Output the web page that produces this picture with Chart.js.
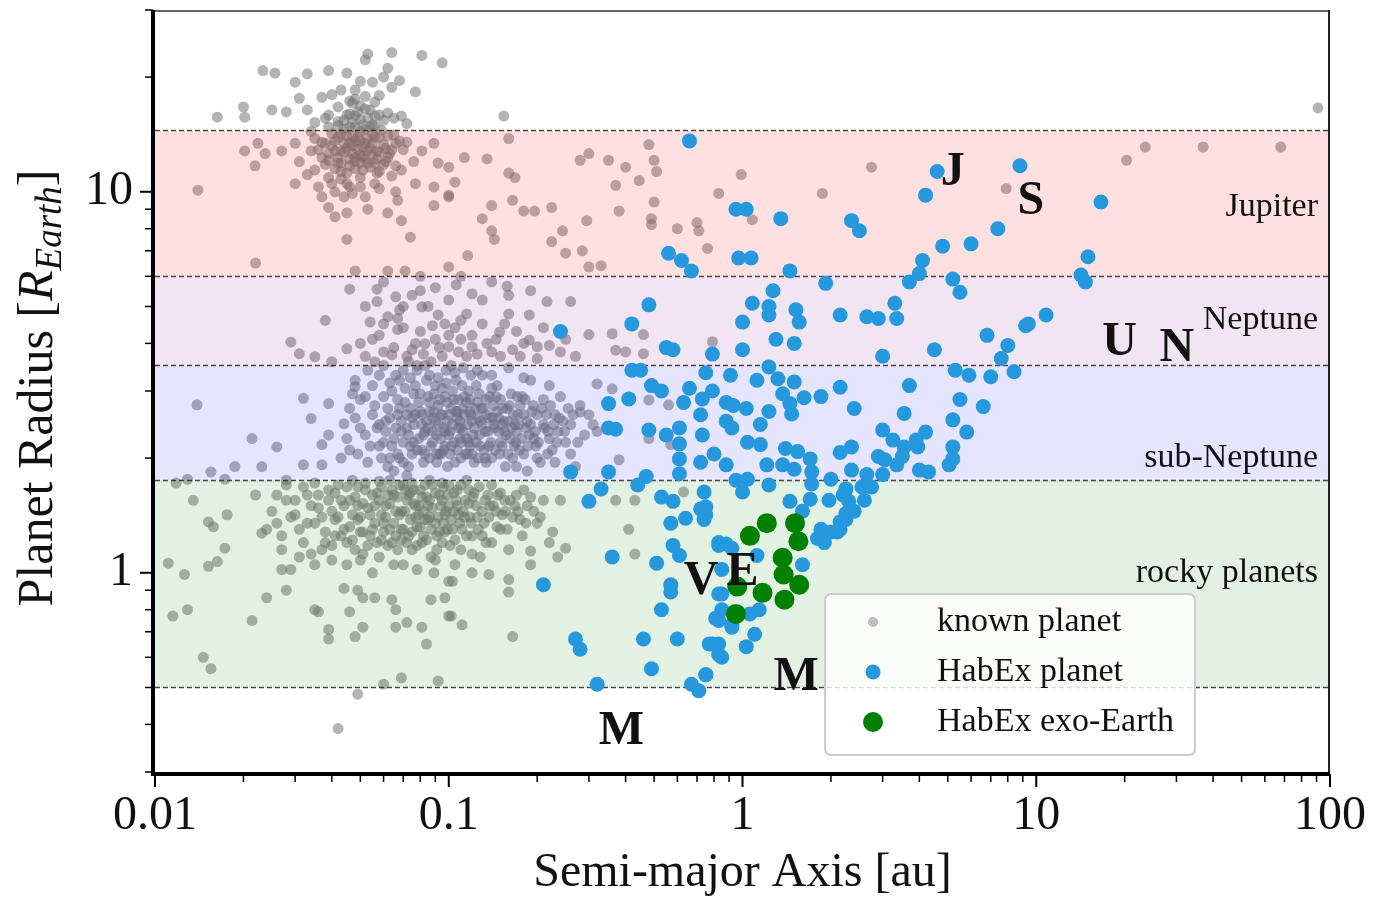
<!DOCTYPE html>
<html>
<head>
<meta charset="utf-8">
<script src="https://cdn.jsdelivr.net/npm/chart.js@4.4.0/dist/chart.umd.min.js"></script>
<style>
  html, body { margin: 0; padding: 0; background: #fff; }
  #wrap { width: 1373px; height: 898px; }
</style>
</head>
<body>
<div id="wrap"><canvas id="chart" width="1373" height="898"></canvas></div>
<script>
// ---- data: [semi-major axis (au), radius (R_Earth)] ----
const knownGiants = [
  [0.053,23],[0.064,23.2],[0.081,22.8],[0.095,21.8],[0.0233,20.8],[0.0256,20.5],[0.033,20.4],[0.039,20.8],[0.045,20.5],
  [0.052,22.2],[0.062,21.1],[0.068,19.6],[0.03,19.4],[0.055,19.4],[0.077,18.3],[0.031,17.6],[0.02,16.7],[0.025,16.4],
  [0.028,16.2],[0.0163,15.7],[0.0202,15.7],[0.037,17.7],[0.043,18.5],[0.048,18.5],[0.047,17.1],[0.042,16.7],[0.033,16.4],
  [0.039,15.9],[0.048,15.8],[0.056,15.8],[0.062,16.1],[0.069,15.8],[0.072,15.1],
  [0.0202,12.8],[0.0224,13.4],[0.0219,11.7],[0.0237,12.6],[0.027,12.8],[0.03,13.4],[0.03,10.5],[0.034,12.8],[0.035,11.4],
  [0.037,12.3],[0.039,10.9],[0.041,12.8],[0.043,11.9],[0.045,10.5],[0.048,12.3],[0.051,11.4],[0.053,12.8],[0.056,11.9],
  [0.056,10.5],[0.062,12.3],[0.066,13.4],[0.069,11.4],[0.081,12.8],[0.089,13.4],[0.092,11.9],[0.1,11.6],[0.077,10.5],
  [0.089,10.3],[0.1,9.7],[0.037,9.7],[0.041,8.6],[0.045,8.8],[0.053,9.0],[0.062,8.8],[0.069,8.4],[0.039,9.1],[0.044,9.7],
  [0.052,9.7],[0.067,9.5],[0.089,9.2],[0.045,7.5],[0.074,7.6],[0.014,10.1],[0.022,6.5],
  [0.042,13.9],[0.046,13.4],[0.05,14.4],[0.044,12.7],[0.048,12.0],[0.052,13.4],[0.039,14.8],[0.054,14.8],[0.043,11.3],
  [0.05,10.9],[0.046,10.3],[0.058,13.9],[0.058,11.3],[0.038,13.4],[0.061,13.0],[0.034,14.4],[0.031,12.0],[0.036,10.3],
  [0.041,10.0],[0.066,10.0],[0.047,14.0],[0.044,14.6],[0.05,12.5],[0.057,12.2],[0.041,11.5],[0.048,13.6],[0.053,13.8],
  [0.039,12.1],[0.045,11.2],[0.055,14.2],
  [0.036,12.9],[0.038,11.8],[0.04,13.2],[0.042,12.3],[0.043,14.2],[0.045,13.0],[0.046,11.7],[0.047,12.6],[0.049,13.9],
  [0.05,11.9],[0.051,13.1],[0.052,12.2],[0.054,11.6],[0.055,13.4],[0.057,12.8],[0.059,14.5],[0.06,11.8],[0.063,12.6],
  [0.065,14.1],[0.07,12.9],[0.035,13.8],[0.033,11.1],[0.04,10.5],[0.047,9.9],[0.058,10.2],[0.064,11.0],[0.072,13.5],
  [0.076,12.0],[0.042,15.3],[0.05,15.5],[0.046,16.0],[0.056,17.2],[0.04,18.0],[0.05,19.5],[0.058,17.9],[0.035,15.2],
  [0.064,18.8],[0.06,20.0],
  [0.037,13.5],[0.039,12.6],[0.04,14.2],[0.041,13.6],[0.042,11.9],[0.043,12.8],[0.044,13.4],[0.045,14.0],[0.046,12.2],
  [0.046,14.8],[0.047,13.2],[0.048,11.5],[0.049,12.9],[0.05,13.6],[0.051,12.4],[0.052,14.6],[0.053,11.9],[0.054,13.0],
  [0.055,12.5],[0.056,13.9],[0.057,11.2],[0.058,12.7],[0.06,13.3],[0.061,12.0],[0.062,14.0],[0.064,12.9],[0.066,11.7],
  [0.068,13.6],[0.043,10.8],[0.05,10.3],[0.038,15.6],[0.045,15.9],[0.052,16.5],[0.06,15.4],[0.048,17.5],[0.042,14.9],
  [0.055,15.0],[0.065,15.6],[0.047,15.2],[0.049,16.2],[0.051,15.0],[0.053,15.6],[0.05,16.8],[0.046,17.3],[0.054,16.4],
  [0.044,15.4],[0.048,14.8],[0.052,17.8],[0.056,14.9],[0.058,15.9]
];
const knownWarmGiants = [
  [0.154,15.8],[0.16,13.8],[0.113,12.3],[0.135,12.2],[0.16,11.2],[0.168,10.9],[0.105,10.6],[0.1,9.8],[0.14,9.2],[0.165,9.5],
  [0.18,8.9],[0.196,8.9],[0.224,9.1],[0.13,8.5],[0.14,7.9],[0.143,7.5],[0.244,7.9],[0.224,7.4],[0.116,6.8],[0.25,6.9],
  [0.285,7.0],[0.295,8.4],[0.28,12.1],[0.3,12.6],[0.35,12.1],[0.4,11.6],[0.37,10.4],[0.445,10.7],[0.48,13.3],[0.5,12.1],
  [0.51,11.3],[0.38,8.9],[0.5,9.4],[0.49,8.5],[0.49,8.2],[0.6,8.0],[0.7,8.3],[0.71,7.9],[0.76,7.1],[0.83,9.9],[0.99,11.1],
  [0.3,6.35],[0.33,6.4],[2.75,11.6],[1.87,9.9],[1.08,8.45],[7.9,10.2],[91,16.6],[20.3,12.1],[23.5,13.1],[37,13.1],[68,13.1]
];
const knownNeptunes = [
  [0.048,6.2],[0.062,6.2],[0.071,6.2],[0.08,6.0],[0.1,6.35],[0.046,5.55],[0.057,5.55],[0.057,5.15],[0.066,5.3],[0.075,5.35],
  [0.081,4.99],[0.038,4.6],[0.054,4.55],[0.062,4.7],[0.067,4.65],[0.067,4.35],[0.092,4.75],[0.097,4.5],[0.029,4.03],
  [0.031,3.76],[0.035,3.69],[0.04,3.58],[0.045,3.87],[0.056,3.58],[0.064,3.73],[0.073,3.58],[0.083,3.99],[0.1,3.92],
  [0.087,3.58],[0.106,5.7],[0.158,5.65],[0.16,5.35],[0.216,5.15],[0.26,5.15],[0.115,4.78],[0.16,4.78],[0.188,4.75],
  [0.149,4.28],[0.188,4.08],[0.2,3.92],[0.3,4.22],[0.36,4.24],[0.46,4.22],[0.11,4.1],[0.12,3.92],[0.14,3.8],[0.37,3.84],
  [0.4,3.8],[0.46,3.76],[0.79,4.04],
  [0.05,4.0],[0.058,4.2],[0.06,3.8],[0.07,4.4],[0.075,3.85],[0.08,4.3],[0.085,5.0],[0.09,4.1],[0.095,3.7],[0.105,4.4],
  [0.115,3.7],[0.13,4.5],[0.13,5.2],[0.145,4.1],[0.17,4.3],[0.175,3.7],[0.21,4.4],[0.24,3.8],[0.12,5.4],[0.09,5.6],
  [0.07,5.0],[0.11,6.0],
  [0.052,3.7],[0.055,4.1],[0.06,4.5],[0.065,3.9],[0.068,4.9],[0.072,3.7],[0.077,4.0],[0.082,3.75],[0.088,4.45],[0.093,3.9],
  [0.1,4.2],[0.108,3.8],[0.11,4.6],[0.12,4.2],[0.125,3.75],[0.135,4.0],[0.15,3.7],[0.155,4.5],[0.165,3.85],[0.18,4.0],
  [0.2,3.65],[0.22,3.95],[0.25,4.1],[0.27,3.7],[0.08,5.5],[0.1,5.2],[0.14,5.8],[0.19,5.5],[0.06,5.8],[0.052,5.0]
];
const knownSubNeptunes = [
  [0.0139,2.76],[0.032,2.87],[0.039,2.78],[0.034,2.54],[0.0214,2.25],[0.026,2.14],[0.048,3.08],[0.0155,1.84],[0.0187,1.9],
  [0.0231,1.9],[0.032,1.92],[0.037,1.92],[0.0129,1.76],[0.0173,1.76],[0.028,1.75],[0.044,2.46],[0.039,2.3],[0.037,2.17],
  [0.48,2.84],[0.56,2.76],[0.32,3.13],[0.36,3.04],[0.28,2.64],[0.31,2.45],[0.38,1.98],[0.48,2.25],[0.57,2.17],
  [0.048,3.2],[0.052,2.9],[0.055,2.6],[0.058,3.3],[0.06,2.2],[0.062,2.7],[0.064,3.0],[0.066,2.4],[0.068,2.0],[0.07,3.4],
  [0.071,2.8],[0.073,2.3],[0.075,2.55],[0.077,3.1],[0.078,2.1],[0.08,2.65],[0.082,1.95],[0.083,2.35],[0.085,2.9],[0.086,3.3],
  [0.088,2.2],[0.09,2.5],[0.092,2.75],[0.093,2.05],[0.095,3.05],[0.097,2.35],[0.099,1.9],[0.1,2.6],[0.102,2.15],[0.104,2.85],
  [0.106,3.2],[0.108,2.4],[0.11,2.0],[0.112,2.7],[0.115,2.25],[0.117,3.0],[0.12,2.5],[0.122,1.95],[0.125,2.8],[0.127,2.3],
  [0.13,3.3],[0.132,2.1],[0.135,2.6],[0.138,2.9],[0.14,2.0],[0.143,2.4],[0.146,3.1],[0.15,2.2],[0.153,2.7],[0.156,1.9],
  [0.16,2.5],[0.163,2.95],[0.167,2.15],[0.17,2.35],[0.175,2.75],[0.18,2.05],[0.185,2.5],[0.19,3.2],[0.195,2.25],[0.2,2.6],
  [0.205,1.95],[0.21,2.85],[0.218,2.35],[0.225,2.1],[0.23,2.6],[0.24,2.9],[0.25,2.2],[0.26,2.45],[0.27,1.9],[0.28,2.75],
  [0.065,1.85],[0.072,1.8],[0.083,3.5],[0.098,3.4],[0.112,3.45],[0.058,2.45],[0.054,2.15],[0.05,2.4],[0.046,2.7],[0.043,2.0],
  [0.076,2.95],[0.088,2.55],[0.094,2.25],[0.107,2.55],[0.118,2.15],[0.128,2.5],[0.142,2.75],[0.155,2.35],[0.172,2.6],
  [0.188,2.3],[0.21,2.45],[0.118,2.85],[0.097,2.9],[0.081,2.45],[0.067,2.6],[0.063,2.0],[0.134,1.95],[0.165,2.0],[0.2,2.0],
  [0.235,2.35],[0.148,2.55],[0.109,2.25],[0.091,2.05],[0.074,2.15],[0.086,2.65],[0.63,1.63],
  [0.045,2.25],[0.047,2.95],[0.049,2.05],[0.053,3.4],[0.056,2.75],[0.059,2.0],[0.061,2.5],[0.063,3.15],[0.065,2.25],
  [0.067,2.85],[0.069,2.35],[0.07,1.95],[0.072,2.6],[0.074,3.25],[0.076,2.2],[0.079,2.8],[0.081,2.1],[0.084,2.5],[0.086,2.0],
  [0.089,2.95],[0.091,2.3],[0.094,2.6],[0.096,2.1],[0.099,2.8],[0.101,2.35],[0.103,3.0],[0.105,1.95],[0.107,2.65],[0.11,2.4],
  [0.113,2.9],[0.116,2.05],[0.119,2.6],[0.121,2.3],[0.124,3.1],[0.126,2.0],[0.129,2.7],[0.133,2.35],[0.137,2.15],[0.141,2.55],
  [0.145,2.9],[0.149,2.05],[0.152,2.45],[0.158,2.7],[0.162,2.25],[0.168,2.45],[0.174,2.1],[0.178,2.9],[0.183,2.4],
  [0.192,2.65],[0.198,2.15],[0.215,2.6],[0.22,2.25],[0.245,2.5],[0.255,2.7],[0.06,3.5],[0.068,3.2],[0.078,3.4],[0.092,3.25],
  [0.102,3.5],[0.125,3.4],[0.14,3.3],[0.16,3.45],[0.18,3.25],[0.22,3.1],[0.17,1.9],[0.185,1.85],[0.23,1.95],[0.26,2.05],
  [0.29,2.3],
  [0.046,2.1],[0.048,2.55],[0.05,2.85],[0.052,2.3],[0.053,1.95],[0.055,3.1],[0.057,2.4],[0.058,2.15],[0.06,2.9],[0.061,2.35],
  [0.062,1.9],[0.063,2.55],[0.064,2.15],[0.066,3.3],[0.067,2.05],[0.068,2.7],[0.069,2.5],[0.07,2.2],[0.071,3.05],[0.072,2.4],
  [0.073,1.9],[0.074,2.7],[0.075,2.05],[0.076,2.45],[0.077,2.6],[0.078,3.5],[0.079,2.25],[0.08,2.95],[0.081,2.6],[0.082,2.3],
  [0.083,2.05],[0.084,3.2],[0.085,2.4],[0.086,2.8],[0.087,2.15],[0.088,2.35],[0.089,2.65],[0.09,3.1],[0.091,1.95],
  [0.092,2.45],[0.093,2.85],[0.094,2.05],[0.095,2.6],[0.096,2.4],[0.097,2.15],[0.098,3.15],[0.099,2.5],[0.1,2.3],[0.101,2.05],
  [0.102,2.7],[0.103,2.45],[0.104,2.2],[0.105,3.35],[0.106,2.65],[0.107,2.1],[0.108,2.85],[0.109,2.5],[0.11,2.2],[0.111,3.1],
  [0.112,2.35],[0.113,2.6],[0.114,2.05],[0.115,2.8],[0.116,2.45],[0.117,2.2],[0.118,2.65],[0.119,3.3],[0.12,2.05],
  [0.122,2.4],[0.123,2.7],[0.124,2.2],[0.126,2.55],[0.127,2.95],[0.128,2.15],[0.13,2.45],[0.131,2.7],[0.133,2.0],[0.134,2.85],
  [0.136,2.35],[0.137,2.55],[0.139,2.2],[0.14,3.05],[0.142,2.45],[0.144,2.1],[0.146,2.65],[0.148,2.35],[0.15,2.85],
  [0.152,2.15],[0.154,2.5],[0.157,2.3],[0.159,2.05],[0.161,2.75],[0.164,2.4],[0.166,2.6],[0.169,2.2],[0.171,2.9],[0.173,2.45],
  [0.177,2.25],[0.18,2.6],[0.182,2.85],[0.186,2.15],[0.19,2.45],[0.194,2.75],[0.197,2.35],[0.202,2.2],[0.207,2.7],
  [0.212,2.4],[0.217,2.05],[0.222,2.75],[0.228,2.45],[0.233,2.2],[0.238,2.55],[0.248,2.35],[0.265,2.6],[0.275,2.2],
  [0.3,2.6],[0.32,2.35]
];
const knownRocky = [
  [0.0152,1.36],[0.0158,1.32],[0.0176,1.42],[0.0231,1.27],[0.0173,1.16],[0.0111,1.06],[0.0126,0.99],[0.0152,1.04],
  [0.0163,1.07],[0.027,1.02],[0.029,1.02],[0.024,0.86],[0.028,0.9],[0.0115,0.77],[0.0129,0.8],[0.0214,0.75],[0.035,0.8],
  [0.036,0.79],[0.044,0.91],[0.049,0.9],[0.051,0.86],[0.056,0.86],[0.046,0.79],[0.039,0.71],[0.039,0.67],[0.048,0.68],
  [0.051,0.72],[0.064,0.85],[0.066,0.8],[0.066,0.72],[0.072,0.74],[0.081,0.72],[0.084,0.65],[0.087,0.85],[0.097,0.86],
  [0.1,0.95],[0.1,0.77],[0.0146,0.6],[0.0155,0.56],[0.049,0.48],[0.042,0.39],[0.06,0.51],[0.069,0.53],[0.092,0.52],
  [0.41,1.3],[0.43,1.12],[0.226,1.28],[0.19,1.14],[0.25,1.16],[0.235,1.1],[0.137,0.99],[0.16,0.96],[0.16,0.89],[0.103,0.95],
  [0.111,0.73],[0.102,0.77],[0.165,0.68],[0.0118,1.72],[0.0135,1.55],[0.43,1.55],[0.37,1.55],[0.24,1.55],
  [0.03,1.55],[0.033,1.35],[0.036,1.6],[0.038,1.2],[0.04,1.45],[0.042,1.7],[0.044,1.3],[0.046,1.55],[0.048,1.15],[0.05,1.4],
  [0.052,1.65],[0.054,1.25],[0.056,1.5],[0.058,1.1],[0.06,1.35],[0.062,1.6],[0.064,1.2],[0.066,1.45],[0.068,1.7],[0.07,1.3],
  [0.072,1.55],[0.075,1.15],[0.077,1.4],[0.08,1.65],[0.082,1.25],[0.085,1.5],[0.087,1.1],[0.09,1.35],[0.093,1.6],[0.095,1.2],
  [0.098,1.45],[0.1,1.7],[0.103,1.3],[0.106,1.55],[0.11,1.15],[0.113,1.4],[0.117,1.65],[0.12,1.25],[0.124,1.5],[0.128,1.1],
  [0.132,1.35],[0.136,1.6],[0.14,1.2],[0.145,1.45],[0.15,1.3],[0.155,1.55],[0.16,1.15],[0.165,1.4],[0.17,1.6],[0.178,1.25],
  [0.185,1.5],[0.19,1.05],[0.2,1.35],[0.21,1.55],[0.22,1.2],[0.025,1.45],[0.027,1.25],[0.022,1.6],[0.028,1.7],[0.035,1.05],
  [0.045,1.05],[0.055,1.0],[0.065,1.05],[0.078,1.02],[0.089,1.0],[0.105,1.05],[0.12,1.0],[0.063,1.75],[0.047,1.75],
  [0.086,1.75],[0.115,1.75],[0.14,1.7],[0.051,1.28],[0.059,1.42],[0.069,1.22],[0.074,1.62],[0.083,1.38],[0.097,1.28],
  [0.108,1.42],[0.126,1.3],[0.041,1.25],[0.037,1.4],[0.049,1.5],[0.079,1.5],
  [0.031,1.3],[0.034,1.5],[0.037,1.15],[0.039,1.65],[0.041,1.38],[0.043,1.55],[0.045,1.2],[0.047,1.42],[0.049,1.68],
  [0.051,1.12],[0.053,1.48],[0.055,1.3],[0.057,1.62],[0.059,1.22],[0.061,1.5],[0.063,1.3],[0.065,1.6],[0.067,1.15],
  [0.069,1.45],[0.071,1.65],[0.073,1.25],[0.076,1.52],[0.078,1.32],[0.081,1.2],[0.084,1.58],[0.086,1.4],[0.088,1.7],
  [0.091,1.25],[0.094,1.5],[0.096,1.35],[0.099,1.6],[0.101,1.18],[0.104,1.45],[0.107,1.65],[0.111,1.3],[0.114,1.55],
  [0.118,1.4],[0.122,1.62],[0.13,1.45],[0.134,1.2],[0.138,1.5],[0.147,1.6],[0.152,1.42],[0.158,1.3],[0.168,1.5],
  [0.175,1.38],[0.18,1.65],[0.195,1.45],[0.026,1.6],[0.029,1.4],[0.024,1.3],[0.032,1.68],[0.035,1.72],[0.058,1.74],
  [0.075,1.72],[0.095,1.72],[0.12,1.12],[0.09,1.08],[0.07,1.05],[0.05,1.08],[0.04,1.08],
  [0.03,1.42],[0.032,1.2],[0.033,1.6],[0.035,1.35],[0.036,1.48],[0.038,1.28],[0.039,1.55],[0.04,1.18],[0.041,1.62],
  [0.042,1.4],[0.043,1.25],[0.044,1.5],[0.045,1.68],[0.046,1.32],[0.047,1.22],[0.048,1.58],[0.049,1.38],[0.05,1.28],
  [0.051,1.52],[0.052,1.72],[0.053,1.18],[0.054,1.42],[0.055,1.6],[0.056,1.35],[0.057,1.2],[0.058,1.55],[0.059,1.68],
  [0.06,1.28],[0.061,1.4],[0.062,1.18],[0.063,1.52],[0.064,1.65],[0.065,1.35],[0.066,1.25],[0.067,1.58],[0.068,1.42],
  [0.069,1.3],[0.07,1.7],[0.071,1.45],[0.072,1.2],[0.073,1.6],[0.074,1.38],[0.075,1.28],[0.076,1.65],[0.077,1.5],
  [0.078,1.18],[0.079,1.42],[0.08,1.32],[0.081,1.58],[0.082,1.45],[0.083,1.7],[0.084,1.22],[0.085,1.38],[0.086,1.55],
  [0.087,1.3],[0.088,1.48],[0.09,1.62],[0.091,1.15],[0.092,1.4],[0.093,1.28],[0.095,1.55],[0.096,1.68],[0.097,1.42],
  [0.099,1.3],[0.1,1.5],[0.102,1.38],[0.104,1.62],[0.105,1.22],[0.107,1.5],[0.109,1.35],[0.11,1.7],[0.112,1.45],
  [0.115,1.25],[0.117,1.52],[0.119,1.35],[0.121,1.58],[0.125,1.4],[0.127,1.68],[0.13,1.25],[0.133,1.55],[0.137,1.4],
  [0.142,1.5],[0.146,1.32],[0.15,1.62],[0.156,1.45],[0.162,1.55],[0.172,1.45],[0.183,1.35],[0.19,1.58],[0.205,1.4],
  [0.026,1.35],[0.028,1.55],[0.027,1.15],[0.031,1.1],[0.034,1.12]
];
const habexPlanets = [
  [0.66,13.6],[4.6,11.3],[4.2,9.8],[8.8,11.7],[16.6,9.4],[0.95,9.0],[1.03,9.0],[1.35,8.5],[2.35,8.4],[2.5,7.9],[1.07,6.7],
  [0.97,6.7],[1.45,6.2],[1.92,5.75],[4.1,6.6],[4.8,7.2],[6.0,7.3],[7.4,8.0],[3.7,5.8],[4.0,6.1],[5.2,5.9],[5.5,5.45],
  [1.27,5.5],[1.08,5.1],[1.23,5.0],[1.23,4.75],[1.52,4.9],[1.56,4.55],[1.0,4.55],[2.15,4.75],[2.65,4.7],[2.9,4.65],
  [3.3,5.1],[3.35,4.65],[9.2,4.45],[6.8,4.2],[8.0,3.95],[1.3,4.1],[1.5,4.0],[4.5,3.85],[3.0,3.7],[7.6,3.65],[1.0,3.85],
  [15.0,6.75],[14.2,6.05],[14.7,5.8],[10.8,4.75],[9.4,4.5],[0.56,6.9],[0.62,6.6],[0.67,6.2],[0.48,5.05],[0.42,4.5],
  [0.24,4.3],[0.55,3.9],[0.58,3.85],[0.79,3.75],[0.42,3.4],[0.45,3.4],[0.75,3.35],[0.91,3.3],[0.49,3.1],[0.53,3.0],
  [0.66,3.05],[0.79,3.0],[0.35,2.78],[0.41,2.86],[0.63,2.8],[0.73,2.86],[0.88,2.8],[0.93,2.75],[1.03,2.7],[0.72,2.6],
  [0.88,2.5],[0.92,2.4],[0.35,2.4],[0.37,2.38],[0.48,2.37],[0.55,2.3],[0.61,2.4],[0.73,2.3],[0.61,2.18],[0.8,2.05],
  [0.72,1.95],[0.61,1.99],[0.88,1.92],[0.61,1.82],[0.26,1.84],[0.35,1.84],[0.47,1.79],[0.95,1.75],[0.33,1.66],[0.44,1.7],
  [0.53,1.58],[0.58,1.54],[0.74,1.63],[0.75,1.49],[0.3,1.54],[1.0,1.63],[0.57,1.35],[0.64,1.39],[0.74,1.38],[0.36,1.1],
  [0.51,1.06],[0.58,1.18],[0.61,1.11],[0.21,0.93],[0.57,0.93],[0.57,0.89],[0.83,1.18],[0.88,1.19],[0.85,1.02],[0.85,0.88],
  [0.53,0.8],[0.83,0.75],[0.92,0.72],[0.27,0.67],[0.28,0.63],[0.46,0.67],[0.6,0.67],[0.79,0.65],[0.83,0.65],[0.85,0.6],
  [1.03,0.64],[0.49,0.56],[0.32,0.51],[0.75,0.54],[0.67,0.51],[0.71,0.49],
  [5.3,3.4],[5.9,3.3],[7.0,3.27],[8.4,3.37],[1.23,3.47],[1.12,3.2],[1.32,3.23],[1.5,3.17],[1.37,2.95],[1.62,2.88],
  [1.85,2.9],[2.15,3.07],[3.7,3.1],[2.4,2.7],[3.55,2.62],[5.5,2.85],[6.6,2.73],[1.45,2.78],[1.47,2.61],[1.23,2.65],
  [1.15,2.45],[5.2,2.52],[5.8,2.34],[3.0,2.37],[3.25,2.23],[4.2,2.34],[3.9,2.23],[3.95,2.14],[3.55,2.14],[3.5,2.02],
  [1.04,2.2],[1.15,2.17],[1.4,2.12],[1.54,2.08],[1.7,1.99],[2.15,2.07],[2.35,2.14],[2.9,2.02],[3.05,1.98],[5.2,2.14],
  [5.2,1.99],[5.05,1.92],[3.35,1.92],[4.0,1.86],[4.3,1.84],[1.21,1.92],[1.37,1.92],[1.5,1.87],[1.72,1.84],[2.35,1.86],
  [2.65,1.81],[3.0,1.81],[1.04,1.76],[1.23,1.7],[1.72,1.71],[2.0,1.76],[2.25,1.66],[2.55,1.68],[2.75,1.68],[1.45,1.54],
  [1.7,1.56],[1.97,1.55],[2.3,1.54],[2.6,1.55],[2.25,1.43],[2.4,1.45],[1.6,1.45],[2.15,1.36],[2.25,1.38],[1.85,1.3],
  [2.0,1.28],[2.15,1.3],[1.8,1.23],[1.9,1.2],[1.6,1.05],[1.12,1.11],[2.2,1.6],[2.1,1.28],[0.75,1.42],[0.72,1.47],
  [0.83,1.2],[0.92,1.16],[0.83,0.88],[0.85,0.8],[0.81,0.76],[1.14,0.8],[1.06,0.78],[0.92,0.73],[1.1,0.69],[0.77,0.65],
  [0.83,0.61],[0.75,0.54]
];
const exoEarths = [
  [1.21,1.35],[1.51,1.35],[1.06,1.25],[1.55,1.21],[1.37,1.095],[1.38,0.99],[0.96,0.92],[1.17,0.886],[1.39,0.85],
  [1.56,0.93],[0.95,0.78]
];
// solar system planets, drawn as letters
const solarNames = ['M', 'V', 'E', 'M', 'J', 'S', 'U', 'N'];
const solarA = [0.387, 0.723, 1.0, 1.524, 5.2, 9.58, 19.2, 30.1];
const solarR = [0.383, 0.949, 1.0, 0.532, 11.21, 9.45, 4.01, 3.88];
// radius classes
const bandNames = ['rocky planets', 'sub-Neptune', 'Neptune', 'Jupiter'];
const bandEdges = [0.5, 1.75, 3.5, 6.0, 14.5];
const xMajor = [0.01, 0.1, 1, 10, 100];
const yMajor = [1, 10];

const serif = '"Liberation Serif", "DejaVu Serif", serif';
const bandFills = ['rgba(0,128,0,0.11)', 'rgba(0,0,255,0.1)', 'rgba(128,0,128,0.1)', 'rgba(255,0,0,0.12)'];
const bandLabelAt = [1.0, 2.0, 4.6, 9.1];

const toXY = list => list.map(p => ({ x: p[0], y: p[1] }));
const knownAll = [].concat(knownGiants, knownWarmGiants, knownNeptunes, knownSubNeptunes, knownRocky);

function minorsOf(majors, lo, hi) {
  const out = [];
  majors.concat([majors[0] / 10]).forEach(m => {
    for (let k = 2; k <= 9; k++) {
      const v = m * k;
      if (v >= lo && v <= hi) out.push(v);
    }
  });
  return out;
}

const overlay = {
  id: 'overlay',
  beforeDraw(chart) {
    const ctx = chart.ctx;
    ctx.save();
    ctx.fillStyle = '#fff';
    ctx.fillRect(0, 0, chart.width, chart.height);
    ctx.restore();
  },
  // bands go over the grey points, under the HabEx ones
  afterDatasetDraw(chart, args) {
    if (args.index !== 0) return;
    const { ctx, chartArea: ca, scales: { y } } = chart;
    ctx.save();
    for (let i = 0; i < bandFills.length; i++) {
      const top = y.getPixelForValue(bandEdges[i + 1]);
      const bot = y.getPixelForValue(bandEdges[i]);
      ctx.fillStyle = bandFills[i];
      ctx.fillRect(ca.left, top, ca.right - ca.left, bot - top);
    }
    ctx.setLineDash([5, 3]);
    ctx.lineWidth = 1.4;
    ctx.strokeStyle = 'rgba(50,40,40,0.85)';
    bandEdges.forEach(v => {
      const py = Math.round(y.getPixelForValue(v)) + 0.5;
      ctx.beginPath();
      ctx.moveTo(ca.left, py);
      ctx.lineTo(ca.right, py);
      ctx.stroke();
    });
    ctx.restore();
  },
  afterDatasetsDraw(chart) {
    const { ctx, chartArea: ca, scales: { x, y } } = chart;
    ctx.save();

    // band labels
    ctx.fillStyle = '#111';
    ctx.font = '34px ' + serif;
    ctx.textAlign = 'right';
    ctx.textBaseline = 'middle';
    bandNames.forEach((name, i) => {
      ctx.fillText(name, ca.right - 12, y.getPixelForValue(bandLabelAt[i]));
    });

    // solar system letters
    ctx.font = 'bold 48px ' + serif;
    ctx.textAlign = 'center';
    solarNames.forEach((n, i) => {
      ctx.fillText(n, x.getPixelForValue(solarA[i]), y.getPixelForValue(solarR[i]));
    });

    // frame
    ctx.lineWidth = 2;
    ctx.strokeStyle = '#666';
    ctx.beginPath(); ctx.moveTo(ca.left, ca.top + 1); ctx.lineTo(ca.right, ca.top + 1); ctx.stroke();
    ctx.strokeStyle = '#222';
    ctx.beginPath(); ctx.moveTo(ca.right - 1, ca.top); ctx.lineTo(ca.right - 1, ca.bottom); ctx.stroke();
    ctx.strokeStyle = '#000';
    ctx.lineWidth = 4;
    ctx.beginPath(); ctx.moveTo(ca.left - 2, ca.top); ctx.lineTo(ca.left - 2, ca.bottom + 2); ctx.lineTo(ca.right, ca.bottom + 2); ctx.stroke();

    // tick marks
    ctx.lineWidth = 2;
    xMajor.forEach(v => {
      const px = x.getPixelForValue(v);
      ctx.beginPath(); ctx.moveTo(px, ca.bottom + 2); ctx.lineTo(px, ca.bottom + 15); ctx.stroke();
    });
    yMajor.forEach(v => {
      const py = y.getPixelForValue(v);
      ctx.beginPath(); ctx.moveTo(ca.left - 2, py); ctx.lineTo(ca.left - 15, py); ctx.stroke();
    });
    ctx.lineWidth = 1.5;
    minorsOf(xMajor, 0.01, 100).forEach(v => {
      const px = x.getPixelForValue(v);
      ctx.beginPath(); ctx.moveTo(px, ca.bottom + 2); ctx.lineTo(px, ca.bottom + 10); ctx.stroke();
    });
    minorsOf(yMajor, 0.3, 30).forEach(v => {
      const py = y.getPixelForValue(v);
      ctx.beginPath(); ctx.moveTo(ca.left - 2, py); ctx.lineTo(ca.left - 10, py); ctx.stroke();
    });

    // y title with subscript
    ctx.translate(52, (ca.top + ca.bottom) / 2 - 3);
    ctx.rotate(-Math.PI / 2);
    ctx.textAlign = 'left';
    ctx.textBaseline = 'alphabetic';
    const parts = [
      { t: 'Planet Radius [', f: '50px ' + serif, dy: 0 },
      { t: 'R', f: 'italic 50px ' + serif, dy: 0 },
      { t: 'Earth', f: 'italic 37px ' + serif, dy: 9 },
      { t: ']', f: '50px ' + serif, dy: 0 }
    ];
    let total = 0;
    parts.forEach(p => { ctx.font = p.f; p.w = ctx.measureText(p.t).width; total += p.w; });
    let cx = -total / 2;
    ctx.fillStyle = '#111';
    parts.forEach(p => { ctx.font = p.f; ctx.fillText(p.t, cx, p.dy); cx += p.w; });
    ctx.restore();

    // legend
    ctx.save();
    const lx = 825, ly = 594, lw = 370, lh = 161;
    ctx.fillStyle = 'rgba(255,255,255,0.8)';
    ctx.strokeStyle = '#cccccc';
    ctx.lineWidth = 2;
    ctx.beginPath();
    ctx.roundRect(lx, ly, lw, lh, 6);
    ctx.fill();
    ctx.stroke();
    ctx.font = '34px ' + serif;
    ctx.textAlign = 'left';
    ctx.textBaseline = 'middle';
    chart.data.datasets.forEach((ds, i) => {
      const ry = ly + 28 + i * 50;
      ctx.fillStyle = i === 0 ? 'rgba(128,128,128,0.5)' : ds.backgroundColor;
      ctx.beginPath();
      ctx.arc(lx + 48, ry, i === 0 ? 5 : ds.pointRadius, 0, Math.PI * 2);
      ctx.fill();
      ctx.fillStyle = '#111';
      ctx.fillText(ds.label, lx + 112, ry);
    });
    ctx.restore();
  }
};

new Chart(document.getElementById('chart'), {
  type: 'scatter',
  data: {
    datasets: [
      { label: 'known planet', data: toXY(knownAll), backgroundColor: 'rgba(118,118,118,0.55)',
        pointRadius: 5.5, borderWidth: 0, order: 2 },
      { label: 'HabEx planet', data: toXY(habexPlanets), backgroundColor: 'rgb(38,152,222)',
        pointRadius: 7.5, borderWidth: 0, order: 1 },
      { label: 'HabEx exo-Earth', data: toXY(exoEarths), backgroundColor: '#008000',
        pointRadius: 10, borderWidth: 0, order: 0 }
    ]
  },
  options: {
    responsive: false,
    animation: false,
    events: [],
    layout: { padding: { top: 8, right: 43, left: 0, bottom: 0 } },
    plugins: { legend: { display: false }, tooltip: { enabled: false } },
    scales: {
      x: {
        type: 'logarithmic',
        min: 0.01,
        max: 100,
        afterBuildTicks: s => { s.ticks = xMajor.map(v => ({ value: v })); },
        afterFit: s => { s.height = 126; s.paddingLeft = 0; s.paddingRight = 0; },
        ticks: {
          autoSkip: false, maxRotation: 0, padding: 16, color: '#111',
          font: { family: serif, size: 48 },
          callback: v => String(v)
        },
        grid: { display: false, drawTicks: false },
        border: { display: false },
        title: {
          display: true, text: 'Semi-major Axis [au]', color: '#111',
          font: { family: serif, size: 48, lineHeight: 1 },
          padding: { top: 0, bottom: 1 }
        }
      },
      y: {
        type: 'logarithmic',
        min: 0.3,
        max: 30,
        afterBuildTicks: s => { s.ticks = yMajor.map(v => ({ value: v })); },
        afterFit: s => { s.width = 155; s.paddingTop = 0; s.paddingBottom = 0; },
        ticks: {
          autoSkip: false, padding: 22, color: '#111',
          font: { family: serif, size: 48 },
          callback: v => String(v)
        },
        grid: { display: false, drawTicks: false },
        border: { display: false }
      }
    }
  },
  plugins: [overlay]
});
</script>
</body>
</html>
